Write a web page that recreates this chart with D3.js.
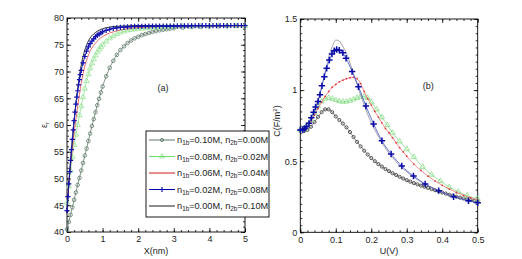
<!DOCTYPE html>
<html>
<head>
<meta charset="utf-8">
<script src="https://cdn.jsdelivr.net/npm/d3@7"></script>
<style>
  body { margin: 0; background: #fff; }
  text { font-family: "Liberation Sans", Arial, sans-serif; fill: #222; }
</style>
</head>
<body>
<div id="chart"></div>
<script>
// ---- panel (a): eps_r vs X(nm) ----
var xA = [0,0.05,0.1,0.15,0.2,0.25,0.3,0.35,0.4,0.45,0.5,0.55,0.6,0.65,0.7,0.75,0.8,0.85,0.9,0.95,1,
          1.1,1.2,1.3,1.4,1.5,1.6,1.7,1.8,1.9,2,2.1,2.2,2.3,2.4,2.5,2.6,2.7,2.8,2.9,3,
          3.25,3.5,3.75,4,4.25,4.5,4.75,5];
var epsA1 = [40.5,41.9,43.2,44.6,46.0,47.4,48.8,50.1,51.5,52.9,54.3,55.6,57.0,58.4,59.8,61.1,62.4,63.7,64.9,66.1,67.2,
             69.1,70.7,72.0,73.1,74.0,74.7,75.3,75.8,76.2,76.5,76.8,77.0,77.2,77.4,77.55,77.7,77.8,77.9,78.0,78.1,
             78.2,78.3,78.35,78.4,78.45,78.5,78.5,78.5];
var epsA2 = [45.5,48.5,51.5,54.0,56.3,58.2,60.0,61.8,63.5,65.2,66.8,68.2,69.5,70.6,71.5,72.3,73.0,73.6,74.1,74.6,75.0,
             75.6,76.2,76.6,77.0,77.3,77.5,77.7,77.8,77.9,78.0,78.05,78.1,78.15,78.2,78.25,78.3,78.3,78.35,78.35,78.4,
             78.4,78.45,78.45,78.5,78.5,78.5,78.5,78.5];
var epsA3 = [46.0,49.3,52.5,55.5,58.5,61.1,63.5,65.7,67.8,69.5,71.0,72.1,73.0,73.8,74.4,74.9,75.3,75.7,76.0,76.3,76.5,
             76.9,77.2,77.4,77.6,77.75,77.9,78.0,78.1,78.15,78.2,78.25,78.3,78.3,78.35,78.35,78.4,78.4,78.4,78.45,78.45,
             78.45,78.5,78.5,78.5,78.5,78.5,78.5,78.5];
var xA4 = [0,0.025,0.05,0.075,0.1,0.125,0.15,0.175,0.2,0.225,0.25,0.275,0.3,0.325,0.35,0.375,0.4,
           0.45,0.5,0.55,0.6,0.65,0.7,0.75,0.8,0.85,0.9,0.95,1,
           1.1,1.2,1.3,1.4,1.5,1.6,1.7,1.8,1.9,2,2.1,2.2,2.3,2.4,2.5,2.6,2.7,2.8,2.9,3,
           3.1,3.2,3.3,3.4,3.5,3.6,3.7,3.8,3.9,4,4.1,4.2,4.3,4.4,4.5,4.6,4.7,4.8,4.9,5];
var epsA4 = [44,46.6,49.0,51.3,53.4,55.4,57.3,59.1,60.8,62.4,63.9,65.2,66.4,67.5,68.5,69.4,70.2,
             71.6,72.8,73.8,74.6,75.2,75.7,76.1,76.5,76.8,77.0,77.2,77.4,
             77.7,77.9,78.05,78.15,78.25,78.3,78.35,78.4,78.42,78.44,78.45,78.46,78.47,78.48,78.49,78.5,78.5,78.5,78.5,78.5,
             78.51,78.52,78.53,78.54,78.55,78.55,78.56,78.56,78.57,78.57,78.58,78.58,78.58,78.59,78.59,78.6,78.6,78.6,78.6,78.6];
var xA5 = [0,0.05,0.1,0.15,0.2,0.25,0.3,0.35,0.4,0.5,0.6,0.7,0.8,0.9,1,1.2,1.4,1.6,1.8,2,2.5,3,4,5];
var epsA5 = [43.5,48.5,53,57,60.8,64,66.8,69.2,71.2,74,75.7,76.7,77.3,77.7,78.0,78.3,78.45,78.5,78.55,78.6,78.6,78.6,78.6,78.6];

// ---- panel (b): C vs U(V) ----
var uB1 = [0,0.01,0.02,0.03,0.04,0.05,0.06,0.07,0.08,0.09,0.1,0.11,0.12,0.13,0.14,0.15,0.16,0.17,0.18,0.19,0.2,
           0.21,0.22,0.23,0.24,0.25,0.26,0.27,0.28,0.29,0.3,0.31,0.32,0.33,0.34,0.35,0.36,0.37,0.38,0.39,0.4,
           0.41,0.42,0.43,0.44,0.45,0.46,0.47,0.48,0.49,0.5];
var cB1 = [0.720,0.712,0.720,0.742,0.775,0.812,0.845,0.865,0.864,0.845,0.815,0.790,0.765,0.738,0.705,0.670,0.636,0.604,0.574,0.547,0.522,
           0.500,0.480,0.462,0.445,0.430,0.416,0.403,0.390,0.378,0.367,0.356,0.346,0.337,0.328,0.320,0.312,0.304,0.296,0.288,0.280,
           0.272,0.264,0.257,0.250,0.244,0.238,0.232,0.226,0.220,0.214];
var uB2 = [0,0.01,0.02,0.03,0.04,0.05,0.06,0.07,0.08,0.09,0.1,0.11,0.12,0.13,0.14,0.15,0.16,0.17,0.18,0.19,0.2,
           0.215,0.23,0.245,0.26,0.28,0.3,0.32,0.345,0.37,0.395,0.42,0.445,0.47,0.5];
var cB2 = [0.72,0.73,0.755,0.79,0.84,0.885,0.92,0.94,0.945,0.94,0.93,0.922,0.918,0.92,0.925,0.935,0.945,0.953,0.955,0.945,0.915,
           0.865,0.81,0.755,0.70,0.64,0.585,0.53,0.46,0.405,0.36,0.318,0.285,0.258,0.235];
var uB3 = [0,0.01,0.02,0.03,0.04,0.05,0.06,0.07,0.08,0.09,0.1,0.11,0.12,0.13,0.14,0.15,0.16,0.17,0.18,0.19,0.2,
           0.21,0.22,0.23,0.24,0.25,0.26,0.27,0.28,0.29,0.3,0.32,0.34,0.36,0.38,0.4,0.42,0.44,0.46,0.48,0.5];
var cB3 = [0.72,0.725,0.745,0.78,0.825,0.87,0.915,0.955,0.99,1.02,1.04,1.058,1.07,1.08,1.087,1.09,1.08,1.045,0.99,0.94,0.895,
           0.85,0.81,0.77,0.73,0.70,0.665,0.63,0.595,0.565,0.535,0.48,0.435,0.395,0.36,0.33,0.305,0.28,0.26,0.243,0.228];
var uB4 = [0,0.007,0.012,0.017,0.0245,0.031,0.0375,0.043,0.05,0.0555,0.061,0.0676,0.0744,0.0819,0.0893,0.0958,0.1025,0.11,0.12,0.129,
           0.146,0.164,0.185,0.2066,0.23,0.256,0.286,0.319,0.352,0.39,0.432,0.474,0.5];
var cB4 = [0.72,0.722,0.73,0.743,0.766,0.805,0.845,0.882,0.92,0.968,1.03,1.094,1.153,1.212,1.254,1.277,1.285,1.28,1.262,1.224,
           1.13,1.024,0.888,0.762,0.644,0.551,0.466,0.396,0.34,0.293,0.25,0.222,0.208];
var uB5 = [0,0.01,0.02,0.03,0.04,0.05,0.06,0.07,0.08,0.09,0.1,0.11,0.12,0.13,0.14,0.15,0.16,0.17,0.18,0.19,0.2,
           0.22,0.24,0.26,0.28,0.3,0.32,0.34,0.36,0.38,0.4,0.42,0.44,0.46,0.48,0.5];
var cB5 = [0.72,0.722,0.74,0.785,0.85,0.93,1.02,1.13,1.23,1.305,1.352,1.345,1.305,1.26,1.19,1.115,1.04,0.965,0.895,0.83,0.77,
           0.675,0.59,0.525,0.47,0.425,0.387,0.355,0.327,0.303,0.282,0.264,0.248,0.235,0.222,0.21];

var legendLabels = [["0.10","0.00"],["0.08","0.02"],["0.06","0.04"],["0.02","0.08"],["0.00","0.10"]];
var xTicksA = [0,1,2,3,4,5], yTicksA = [40,45,50,55,60,65,70,75,80];
var xTicksB = [0,0.1,0.2,0.3,0.4,0.5], yTicksB = [0,0.5,1,1.5];

var svg = d3.select("#chart").append("svg")
    .attr("width", 522).attr("height", 259);
svg.append("rect").attr("width", 522).attr("height", 259).attr("fill", "#fff");

// plus marker path
function plus(s) { return "M" + (-s) + ",0H" + s + "M0," + (-s) + "V" + s; }

// draws box frame with inward ticks on all four sides
function frame(g, x, y, xt, yt, xminor, yminor, fmtX, fmtY) {
    var w = x.range()[1], h = y.range()[0];
    g.append("g").attr("transform", "translate(0," + h + ")")
        .call(d3.axisBottom(x).tickValues(xminor).tickSize(-2).tickSizeOuter(0).tickFormat(""));
    g.append("g").attr("transform", "translate(0," + h + ")")
        .call(d3.axisBottom(x).tickValues(xt).tickSize(-4).tickSizeOuter(0).tickPadding(4).tickFormat(fmtX));
    g.append("g").call(d3.axisTop(x).tickValues(xminor).tickSize(-2).tickSizeOuter(0).tickFormat(""));
    g.append("g").call(d3.axisTop(x).tickValues(xt).tickSize(-4).tickSizeOuter(0).tickFormat(""));
    g.append("g").call(d3.axisLeft(y).tickValues(yminor).tickSize(-2).tickSizeOuter(0).tickFormat(""));
    g.append("g").call(d3.axisLeft(y).tickValues(yt).tickSize(-4).tickSizeOuter(0).tickPadding(3).tickFormat(fmtY));
    g.append("g").attr("transform", "translate(" + w + ",0)")
        .call(d3.axisRight(y).tickValues(yminor).tickSize(-2).tickSizeOuter(0).tickFormat(""));
    g.append("g").attr("transform", "translate(" + w + ",0)")
        .call(d3.axisRight(y).tickValues(yt).tickSize(-4).tickSizeOuter(0).tickFormat(""));
    g.selectAll(".domain").remove();
    g.selectAll(".tick line").attr("stroke", "#000").attr("stroke-width", 0.8);
    g.selectAll(".tick text").style("font-size", "9px").attr("fill", "#222");
    g.append("rect").attr("width", w).attr("height", h)
        .attr("fill", "none").attr("stroke", "#000").attr("stroke-width", 0.9);
}

function series(g, x, y, xs, ys, opt) {
    var pts = xs.map(function (d, i) { return [d, ys[i]]; });
    var line = d3.line().x(function (d) { return x(d[0]); }).y(function (d) { return y(d[1]); })
        .curve(d3.curveMonotoneX);
    g.append("path").datum(pts).attr("d", line)
        .attr("fill", "none").attr("stroke", opt.color).attr("stroke-width", opt.width || 0.8);
    if (!opt.marker) return;
    g.append("g").selectAll("path").data(pts).enter().append("path")
        .attr("transform", function (d) { return "translate(" + x(d[0]) + "," + y(d[1]) + ")"; })
        .attr("d", opt.marker)
        .attr("fill", opt.fill || "none")
        .attr("stroke", opt.mcolor || opt.color)
        .attr("stroke-width", opt.mwidth || 0.8);
}

var circ = function (r) { return d3.symbol().type(d3.symbolCircle).size(Math.PI * r * r)(); };
var tri = function (s) { return d3.symbol().type(d3.symbolTriangle).size(s)(); };

// ---------- panel (a) ----------
var ga = svg.append("g").attr("transform", "translate(67,18)");
var xa = d3.scaleLinear().domain([0, 5]).range([0, 178]);
var ya = d3.scaleLinear().domain([40, 80]).range([214, 0]);
frame(ga, xa, ya, xTicksA, yTicksA, d3.range(0, 5.01, 0.2), d3.range(40, 80.1, 1),
      d3.format("d"), d3.format("d"));

series(ga, xa, ya, xA, epsA1, {color: "#5f7a68", marker: circ(1.8), mwidth: 0.8});
series(ga, xa, ya, xA, epsA2, {color: "#8fe08f", marker: tri(12), mcolor: "#9ee59e", mwidth: 0.9});
series(ga, xa, ya, xA, epsA3, {color: "#e04848", width: 0.8});
series(ga, xa, ya, xA5, epsA5, {color: "#000", width: 0.8});
series(ga, xa, ya, xA4, epsA4, {color: "#1a1ab0", width: 1, marker: plus(2.6), mcolor: "#1212b0", mwidth: 1.2});

ga.append("text").attr("x", 96).attr("y", 73).attr("text-anchor", "middle")
    .style("font-size", "9px").text("(a)");
svg.append("text").attr("x", 156).attr("y", 254).attr("text-anchor", "middle")
    .style("font-size", "9px").text("X(nm)");
var ely = svg.append("text").attr("transform", "translate(47,125) rotate(-90)")
    .attr("text-anchor", "middle").style("font-size", "9px");
ely.append("tspan").text("ε");
ely.append("tspan").attr("dy", 2).style("font-size", "6px").text("r");

// ---------- panel (b) ----------
var gb = svg.append("g").attr("transform", "translate(300.3,19)");
var xb = d3.scaleLinear().domain([0, 0.5]).range([0, 177.4]);
var yb = d3.scaleLinear().domain([0, 1.5]).range([213.3, 0]);
frame(gb, xb, yb, xTicksB, yTicksB, d3.range(0, 0.501, 0.02), d3.range(0, 1.501, 0.05),
      function (d) { return d === 0 ? "0" : d3.format(".1f")(d); },
      function (d) { return d3.format("")(d); });

series(gb, xb, yb, uB1, cB1, {color: "#444", width: 0.6, marker: circ(1.6), mcolor: "#333", mwidth: 0.8});
series(gb, xb, yb, uB2, cB2, {color: "#8fe08f", width: 0.8, marker: tri(12), mcolor: "#88dd88", mwidth: 0.8});
series(gb, xb, yb, uB3, cB3, {color: "#f07070", width: 0.8, marker: circ(0.9), fill: "#e03a3a", mcolor: "none"});
series(gb, xb, yb, uB5, cB5, {color: "#8a8a9a", width: 0.8});
series(gb, xb, yb, uB4, cB4, {color: "#4050c8", width: 0.8, marker: plus(3.2), mcolor: "#0a0aa8", mwidth: 1.5});

gb.append("text").attr("x", 128).attr("y", 70).attr("text-anchor", "middle")
    .style("font-size", "9px").text("(b)");
svg.append("text").attr("x", 389).attr("y", 254).attr("text-anchor", "middle")
    .style("font-size", "9px").text("U(V)");
var cly = svg.append("text").attr("transform", "translate(280,121) rotate(-90)")
    .attr("text-anchor", "middle").style("font-size", "9px");
cly.append("tspan").text("C(F/m");
cly.append("tspan").attr("dy", -3).style("font-size", "6px").text("2");
cly.append("tspan").attr("dy", 3).text(")");

// ---------- legend ----------
var lg = svg.append("g").attr("transform", "translate(146,131)");
lg.append("rect").attr("width", 123).attr("height", 86)
    .attr("fill", "#fff").attr("stroke", "#000").attr("stroke-width", 0.9);
var legColors = ["#4a6a58", "#55dd55", "#cc0000", "#0000aa", "#000"];
var legMarkers = [circ(1.6), tri(10), null, plus(2.6), null];
legendLabels.forEach(function (lab, i) {
    var cy = 9 + i * 16.5;
    lg.append("line").attr("x1", 3).attr("x2", 29).attr("y1", cy).attr("y2", cy)
        .attr("stroke", legColors[i]).attr("stroke-width", i === 3 ? 1 : 0.9);
    if (legMarkers[i]) {
        lg.append("path").attr("transform", "translate(16," + cy + ")").attr("d", legMarkers[i])
            .attr("fill", "none").attr("stroke", i === 1 ? "#88dd88" : legColors[i])
            .attr("stroke-width", i === 3 ? 1.1 : 0.8);
    }
    var t = lg.append("text").attr("x", 31).attr("y", cy + 3).style("font-size", "9.2px");
    t.append("tspan").text("n");
    t.append("tspan").attr("dy", 2).style("font-size", "6.3px").text("1b");
    t.append("tspan").attr("dy", -2).text("=" + lab[0] + "M, n");
    t.append("tspan").attr("dy", 2).style("font-size", "6.3px").text("2b");
    t.append("tspan").attr("dy", -2).text("=" + lab[1] + "M");
});
</script>
</body>
</html>
